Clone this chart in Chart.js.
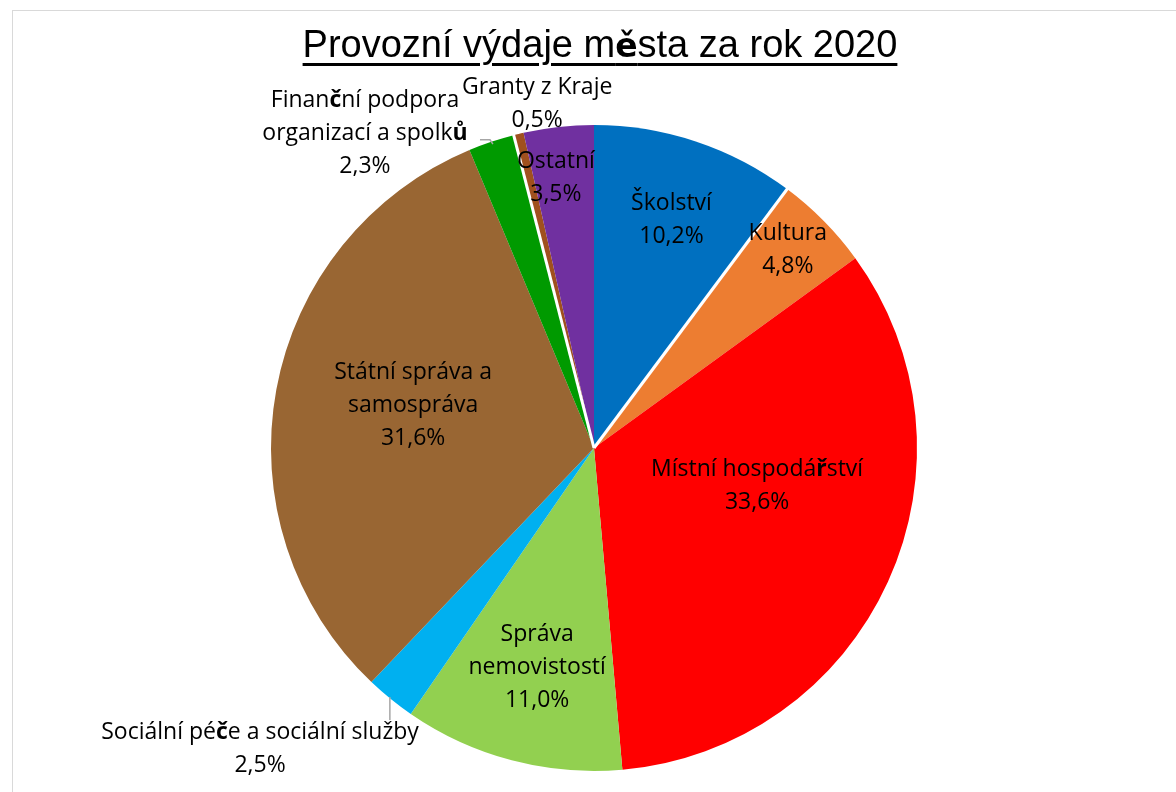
<!DOCTYPE html>
<html>
<head>
<meta charset="utf-8">
<script src="https://cdn.jsdelivr.net/npm/chart.js@4/dist/chart.umd.min.js"></script>
<style>
  html, body { margin: 0; padding: 0; background: #fff; }
  #wrap { position: relative; width: 1176px; height: 792px; overflow: hidden; }
  #frame { position: absolute; left: 12px; top: 10px; right: -2px; bottom: -2px;
           border-top: 1px solid #d9d9d9; border-left: 1px solid #d9d9d9; }
  #title { position: absolute; left: 0; width: 1200px; top: 22px; text-align: center;
           font-family: "Liberation Sans", sans-serif; font-size: 38px; line-height: 44px;
           color: #000; text-decoration: underline; text-decoration-thickness: 3px;
           text-underline-offset: 6px; }
  #title b { font-family: "DejaVu Sans", sans-serif; font-size: 33px; }
  canvas { position: absolute; left: 0; top: 0; }
</style>
</head>
<body>
<div id="wrap">
  <div id="frame"></div>
  <canvas id="pie" width="1176" height="792"></canvas>
  <div id="title">Provozní výdaje m<b>ě</b>sta za rok 2020</div>
</div>
<script>
// data (clockwise from 12 o'clock)
const categories = ['Školství', 'Kultura', 'Místní hospodářství', 'Správa nemovistostí',
  'Sociální péče a sociální služby', 'Státní správa a samospráva',
  'Finanční podpora organizací a spolků', 'Granty z Kraje', 'Ostatní'];
const shares = [10.2, 4.8, 33.6, 11.0, 2.5, 31.6, 2.3, 0.5, 3.5];
const colors = ['#0070c0', '#ed7d31', '#ff0000', '#92d050', '#00b0f0', '#996633', '#009a00', '#a0501e', '#7030a0'];

// how each label is broken into lines
const labelLines = [
  ['Školství'], ['Kultura'], ['Místní hospodářství'], ['Správa', 'nemovistostí'],
  ['Sociální péče a sociální služby'], ['Státní správa a', 'samospráva'],
  ['Finanční podpora', 'organizací a spolků'], ['Granty z Kraje'], ['Ostatní']
];
// label centre, in radii from the pie centre
const labelAnchors = [
  [0.24, -0.706], [0.60, -0.613], [0.505, 0.118], [-0.176, 0.678],
  [-1.034, 0.932], [-0.56, -0.133], [-0.709, -0.975], [-0.176, -1.065], [-0.118, -0.836]
];
// leader lines, in radii from the pie centre
const leaders = {
  4: [[-0.632, 0.771], [-0.632, 0.842]],
  6: [[-0.353, -0.954], [-0.322, -0.954], [-0.313, -0.941]]
};
// slices that have a white gap on their leading edge
const gapBefore = [1, 7];

const fmt = v => v.toFixed(1).replace('.', ',') + '%';

const FONT = '"Open Sans", sans-serif';
const SIZE = 23;
const LINE_H = 33;
const BOLD_CHARS = 'ěčřů';

function drawRich(ctx, text, x, y) {
  // glyphs missing from the original font came out bold, mimic that
  const runs = [];
  for (const ch of text) {
    const bold = BOLD_CHARS.includes(ch);
    const last = runs[runs.length - 1];
    if (last && last.bold === bold) last.t += ch; else runs.push({ t: ch, bold });
  }
  let total = 0;
  for (const r of runs) {
    ctx.font = (r.bold ? 'bold ' : '') + SIZE + 'px ' + FONT;
    r.w = ctx.measureText(r.t).width;
    total += r.w;
  }
  let cx = x - total / 2;
  ctx.textAlign = 'left';
  for (const r of runs) {
    ctx.font = (r.bold ? 'bold ' : '') + SIZE + 'px ' + FONT;
    ctx.fillText(r.t, cx, y);
    cx += r.w;
  }
}

const pieExtras = {
  id: 'pieExtras',
  afterDatasetsDraw(chart) {
    const ctx = chart.ctx;
    const meta = chart.getDatasetMeta(0);
    const a0 = meta.data[0];
    const cx = a0.x, cy = a0.y, R = a0.outerRadius;

    ctx.save();
    // white gaps
    ctx.strokeStyle = '#fff';
    ctx.lineWidth = 3;
    for (const i of gapBefore) {
      const ang = meta.data[i].startAngle;
      ctx.beginPath();
      ctx.moveTo(cx, cy);
      ctx.lineTo(cx + Math.cos(ang) * (R + 2), cy + Math.sin(ang) * (R + 2));
      ctx.stroke();
    }
    // leader lines
    ctx.strokeStyle = '#a6a6a6';
    ctx.lineWidth = 1.5;
    for (const k in leaders) {
      const pts = leaders[k];
      ctx.beginPath();
      pts.forEach((p, j) => {
        const px = cx + p[0] * R, py = cy + p[1] * R;
        if (j === 0) ctx.moveTo(px, py); else ctx.lineTo(px, py);
      });
      ctx.stroke();
    }
    // labels
    ctx.fillStyle = '#000';
    ctx.textBaseline = 'middle';
    shares.forEach((v, i) => {
      const lines = labelLines[i].concat([fmt(v)]);
      const x = cx + labelAnchors[i][0] * R;
      const y0 = cy + labelAnchors[i][1] * R - (lines.length - 1) * LINE_H / 2;
      lines.forEach((ln, j) => drawRich(ctx, ln, x, y0 + j * LINE_H));
    });
    ctx.restore();
  }
};

new Chart(document.getElementById('pie'), {
  type: 'pie',
  data: {
    labels: categories,
    datasets: [{
      data: shares,
      backgroundColor: colors,
      borderWidth: 0
    }]
  },
  options: {
    responsive: false,
    animation: false,
    layout: { padding: { top: 125, bottom: 21, left: 100, right: 88 } },
    plugins: {
      legend: { display: false },
      tooltip: { enabled: false },
      title: { display: false }
    }
  },
  plugins: [pieExtras]
});
</script>
</body>
</html>
